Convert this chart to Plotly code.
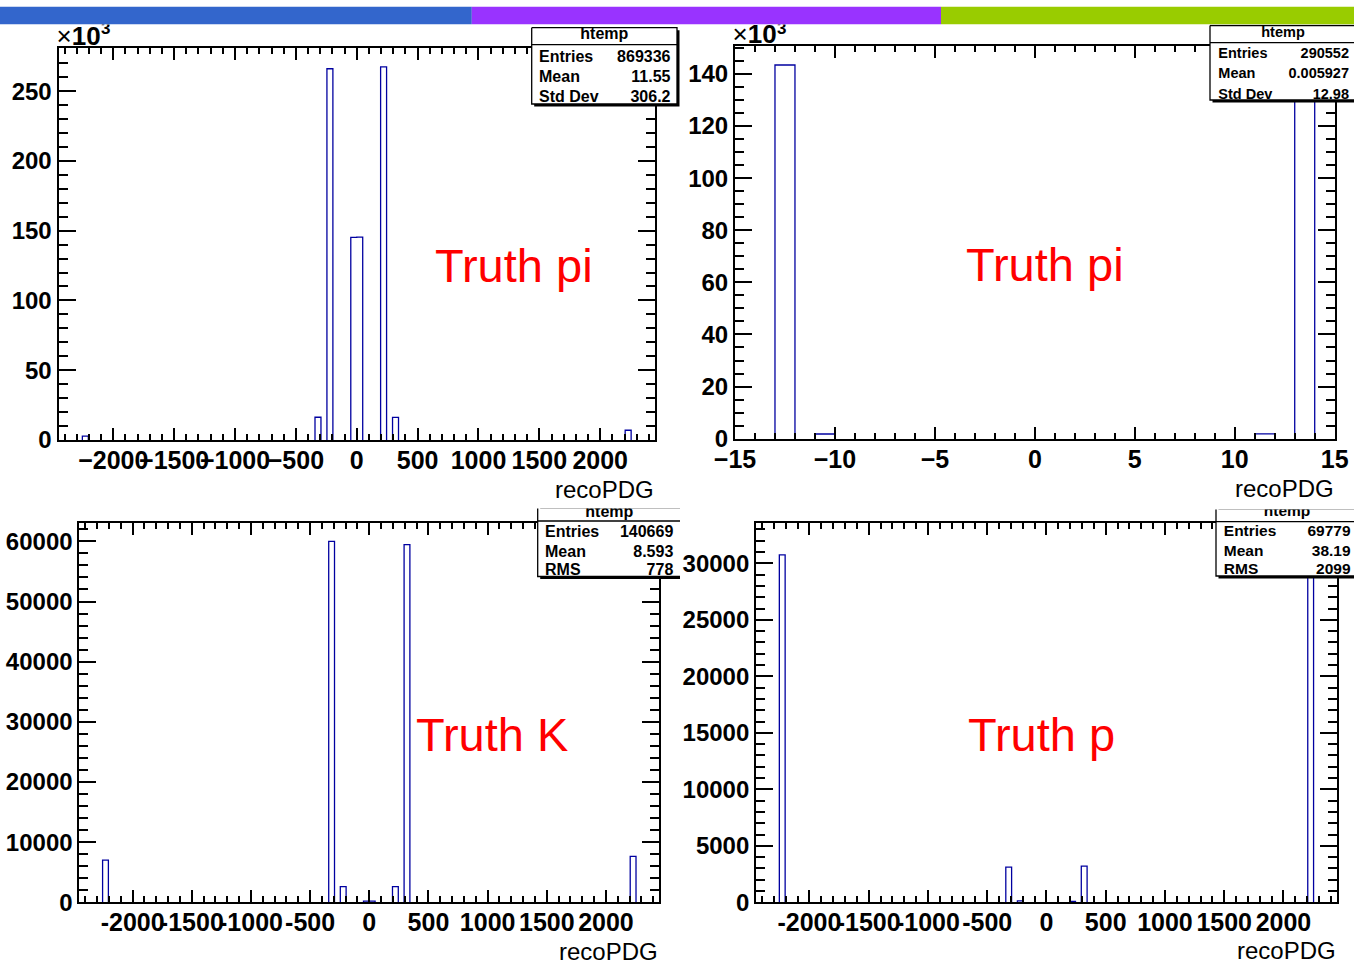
import numpy as np
import plotly.graph_objects as go

W, H = 1354, 963

# ---------------- data ----------------
# reconstructed PDG code -> number of entries, per true particle species
pi_codes = [-2212, -321, -211, -13, -11, 11, 13, 211, 321, 2212]
pi_counts = [2800, 16300, 266000, 143400, 1810, 1822, 143520, 267300, 16200, 7000]

k_codes = [-2212, -321, -211, -13, 13, 211, 321, 2212]
k_counts = [7000, 60000, 2600, 200, 200, 2600, 59450, 7650]

p_codes = [-2212, -321, -211, 211, 321, 2212]
p_counts = [30760, 3120, 120, 80, 3200, 31950]

# binning: (low edge, high edge, bin width)
wide_bins = (-2450, 2450, 49)
zoom_bins = (-15, 15, 1)

# tick labels
wide_x_vals = [-2000, -1500, -1000, -500, 0, 500, 1000, 1500, 2000]
wide_x_text_minus = ["\u22122000", "\u22121500", "\u22121000", "\u2212500", "0", "500", "1000", "1500", "2000"]
wide_x_text_hyphen = ["-2000", "-1500", "-1000", "-500", "0", "500", "1000", "1500", "2000"]
zoom_x_vals = [-15, -10, -5, 0, 5, 10, 15]
zoom_x_text = ["\u221215", "\u221210", "\u22125", "0", "5", "10", "15"]

pi_wide_y_vals = [0, 50000, 100000, 150000, 200000, 250000]
pi_wide_y_text = ["0", "50", "100", "150", "200", "250"]
pi_zoom_y_vals = [0, 20000, 40000, 60000, 80000, 100000, 120000, 140000]
pi_zoom_y_text = ["0", "20", "40", "60", "80", "100", "120", "140"]
k_y_vals = [0, 10000, 20000, 30000, 40000, 50000, 60000]
k_y_text = ["0", "10000", "20000", "30000", "40000", "50000", "60000"]
p_y_vals = [0, 5000, 10000, 15000, 20000, 25000, 30000]
p_y_text = ["0", "5000", "10000", "15000", "20000", "25000", "30000"]

# statistics boxes
stats_pi_wide = [("Entries", "869336"), ("Mean", "11.55"), ("Std Dev", "306.2")]
stats_pi_zoom = [("Entries", "290552"), ("Mean", "0.005927"), ("Std Dev", "12.98")]
stats_k = [("Entries", "140669"), ("Mean", "8.593"), ("RMS", "778")]
stats_p = [("Entries", "69779"), ("Mean", "38.19"), ("RMS", "2099")]

panel_labels = ["Truth pi", "Truth pi", "Truth K", "Truth p"]

FONT = "Liberation Sans"
HIST_COLOR = "rgb(0,0,160)"


def fx(px):
    return px / W


def fy(py):
    return 1 - py / H


def step_outline(codes, counts, binning):
    """Bin the entries and return the histogram outline; the zero level is left
    undrawn so it stays hidden under the frame, as in a ROOT pad."""
    lo, hi, width = binning
    nb = int(round((hi - lo) / width))
    edges = lo + width * np.arange(nb + 1)
    c = np.zeros(nb)
    for code, n in zip(codes, counts):
        if lo <= code < hi:
            c[int(np.floor((code - lo) / width))] += n
    xs, ys = [], []
    i = 0
    while i < nb:
        if c[i] == 0:
            i += 1
            continue
        j = i
        while j + 1 < nb and c[j + 1] > 0:
            j += 1
        xs.append(edges[i])
        ys.append(0)
        for k in range(i, j + 1):
            xs += [edges[k], edges[k + 1]]
            ys += [c[k], c[k]]
        xs += [edges[j + 1], None]
        ys += [0, None]
        i = j + 1
    return xs, ys, c.max()


def hist_xaxis(dom, rng, vals, text, minor_vals, anchor):
    return dict(domain=dom, range=rng, anchor=anchor, showline=True, linecolor="black",
                linewidth=2, mirror="ticks", ticks="inside", ticklen=12, tickwidth=2,
                tickcolor="black", tickmode="array", tickvals=vals, ticktext=text,
                tickangle=0, ticklabelstandoff=-3, automargin=False,
                tickfont=dict(family=FONT, size=25, color="black", weight="bold"),
                showgrid=False, zeroline=False, fixedrange=True,
                minor=dict(tickmode="array", tickvals=minor_vals, ticks="inside", ticklen=6,
                           tickwidth=2, tickcolor="black", showgrid=False))


def hist_yaxis(dom, rng, vals, text, minor_vals, anchor):
    return dict(domain=dom, range=rng, anchor=anchor, showline=True, linecolor="black",
                linewidth=2, mirror="ticks", ticks="inside", ticklen=17, tickwidth=2,
                tickcolor="black", tickmode="array", tickvals=vals, ticktext=text,
                automargin=False,
                tickfont=dict(family=FONT, size=24, color="black", weight="bold"),
                showgrid=False, zeroline=False, fixedrange=True,
                minor=dict(tickmode="array", tickvals=minor_vals, ticks="inside", ticklen=9,
                           tickwidth=2, tickcolor="black", showgrid=False))


fig = go.Figure()
layout = {}

# ---------------- histogram panels ----------------
panels = [
    # codes, counts, binning, frame px (x0, x1, y0, y1), x ticks, y ticks, minor steps
    (pi_codes, pi_counts, wide_bins, (58.5, 655, 48.3, 440), wide_x_vals, wide_x_text_minus,
     pi_wide_y_vals, pi_wide_y_text, 100, 10000),
    (pi_codes, pi_counts, zoom_bins, (735, 1334.7, 46, 438.7), zoom_x_vals, zoom_x_text,
     pi_zoom_y_vals, pi_zoom_y_text, 1, 5000),
    (k_codes, k_counts, wide_bins, (79.4, 659.2, 523.3, 902.3), wide_x_vals, wide_x_text_hyphen,
     k_y_vals, k_y_text, 100, 2000),
    (p_codes, p_counts, wide_bins, (756.1, 1336.8, 523.3, 902.3), wide_x_vals, wide_x_text_hyphen,
     p_y_vals, p_y_text, 100, 1000),
]

for i, (codes, counts, binning, frame, xv, xt, yv, yt, xminor, yminor) in enumerate(panels, start=1):
    sfx = "" if i == 1 else str(i)
    xs, ys, ymax = step_outline(codes, counts, binning)
    fig.add_trace(go.Scatter(x=xs, y=ys, mode="lines", line=dict(color=HIST_COLOR, width=1.3),
                             connectgaps=False, xaxis="x" + sfx, yaxis="y" + sfx,
                             hoverinfo="skip", showlegend=False))
    x0, x1, y0, y1 = frame
    lo, hi, _ = binning
    ytop = 1.05 * ymax
    xminor_vals = np.arange(np.ceil(lo / xminor) * xminor, hi + 1e-9, xminor)
    yminor_vals = np.arange(0, ytop, yminor)
    layout["xaxis" + sfx] = hist_xaxis([fx(x0), fx(x1)], [lo, hi], xv, xt, xminor_vals, "y" + sfx)
    layout["yaxis" + sfx] = hist_yaxis([fy(y1), fy(y0)], [0, ytop], yv, yt, yminor_vals, "x" + sfx)

# ---------------- overlay pads (pixel coordinates) ----------------
# each pad clips what is drawn inside it, like a ROOT sub-pad
pads = {
    5: (0, 680, 24.5, 505),
    6: (680, W, 24.5, 505),
    7: (0, 680, 508.5, H),
    8: (680, W, 509.5, H),
}
for n, (x0, x1, y0, y1) in pads.items():
    layout["xaxis%d" % n] = dict(domain=[fx(x0), fx(x1)], range=[x0, x1], visible=False,
                                 fixedrange=True, automargin=False, anchor="y%d" % n)
    layout["yaxis%d" % n] = dict(domain=[fy(y1), fy(y0)], range=[y1, y0], visible=False,
                                 fixedrange=True, automargin=False, anchor="x%d" % n)


def pad_trace(n, **kw):
    fig.add_trace(go.Scatter(xaxis="x%d" % n, yaxis="y%d" % n, hoverinfo="skip",
                             showlegend=False, **kw))


def stats_box(n, x0, x1, y0, ysep, y1, title, title_base, rows, row_bases, lab_x, val_x, fs):
    sh = 2.5
    pad_trace(n, x=[x0 + sh, x1 + sh, x1 + sh, x0 + sh, x0 + sh],
              y=[y0 + sh, y0 + sh, y1 + sh, y1 + sh, y0 + sh],
              mode="lines", fill="toself", fillcolor="black", line=dict(width=0, color="black"))
    pad_trace(n, x=[x0, x1, x1, x0, x0], y=[y0, y0, y1, y1, y0], mode="lines",
              fill="toself", fillcolor="white", line=dict(color="black", width=1.3))
    pad_trace(n, x=[x0, x1], y=[ysep, ysep], mode="lines", line=dict(color="black", width=1.3))
    tf = dict(family=FONT, size=fs, color="black", weight="bold")
    pad_trace(n, x=[(x0 + x1) / 2], y=[title_base - 0.25 * fs], mode="text", text=[title],
              textposition="middle center", textfont=tf, cliponaxis=True)
    pad_trace(n, x=[lab_x] * len(rows), y=[b - 0.25 * fs for b in row_bases], mode="text",
              text=[r[0] for r in rows], textposition="middle right", textfont=tf, cliponaxis=True)
    pad_trace(n, x=[val_x] * len(rows), y=[b - 0.25 * fs for b in row_bases], mode="text",
              text=[r[1] for r in rows], textposition="middle left", textfont=tf, cliponaxis=True)


stats_box(5, 531.7, 677, 27.7, 44.7, 104, "htemp", 39.3, stats_pi_wide, [62.3, 82.0, 101.7],
          539, 670.5, 16)
stats_box(6, 1210, 1356, 25.5, 42.7, 100, "htemp", 36.7, stats_pi_zoom, [58.3, 78.3, 98.7],
          1218.3, 1349, 14.5)
stats_box(7, 537.7, 681, 504, 521, 576.5, "htemp", 516.7, stats_k, [537.3, 556.7, 575],
          545, 673.3, 16)
stats_box(8, 1216, 1358, 504, 521.7, 576, "htemp", 515.7, stats_p, [535.7, 555.7, 574.3],
          1223.8, 1350.6, 15.5)

# exponent labels above the y axes of the two upper panels; the raised exponent
# runs up under the coloured banner and is cut by the pad edge
for n, xpos, base in [(5, 56.5, 45), (6, 732.5, 43.3)]:
    pad_trace(n, x=[xpos], y=[base - 0.25 * 26], mode="text",
              text=["\u00d7<b>10</b>"], textposition="middle right",
              textfont=dict(family=FONT, size=26, color="black"), cliponaxis=True)
    pad_trace(n, x=[xpos + 44.5], y=[34 - 0.25 * 17], mode="text",
              text=["3"], textposition="middle right",
              textfont=dict(family=FONT, size=17, color="black", weight="bold"), cliponaxis=True)

# ---------------- annotations ----------------
annotations = []
for (xp, yp), label in zip([(433, 265.5), (964, 264.5), (414, 734.2), (966, 734.2)], panel_labels):
    annotations.append(dict(x=fx(xp), y=fy(yp), xref="paper", yref="paper", text=label,
                            showarrow=False, xanchor="left", yanchor="middle",
                            font=dict(family=FONT, size=47, color="red")))
for xp, yp in [(656, 489.5), (1336, 488.5), (660, 951), (1338, 950)]:
    annotations.append(dict(x=fx(xp), y=fy(yp), xref="paper", yref="paper", text="recoPDG",
                            showarrow=False, xanchor="right", yanchor="middle",
                            font=dict(family=FONT, size=24, color="black")))

# coloured banner along the top edge
banner = [(0, 471.8, "#3366CC"), (471.8, 941, "#9933FF"), (941, W, "#99CC00")]
shapes = [dict(type="rect", xref="paper", yref="paper", x0=fx(a), x1=fx(b), y0=fy(24.3), y1=fy(6.7),
               fillcolor=c, line=dict(width=0), layer="above") for a, b, c in banner]

fig.update_layout(
    template="none",
    width=W, height=H, margin=dict(l=0, r=0, t=0, b=0, pad=0, autoexpand=False),
    paper_bgcolor="white", plot_bgcolor="rgba(0,0,0,0)",
    showlegend=False, hovermode=False,
    annotations=annotations, shapes=shapes,
    **layout,
)

fig.write_html("out.html")
